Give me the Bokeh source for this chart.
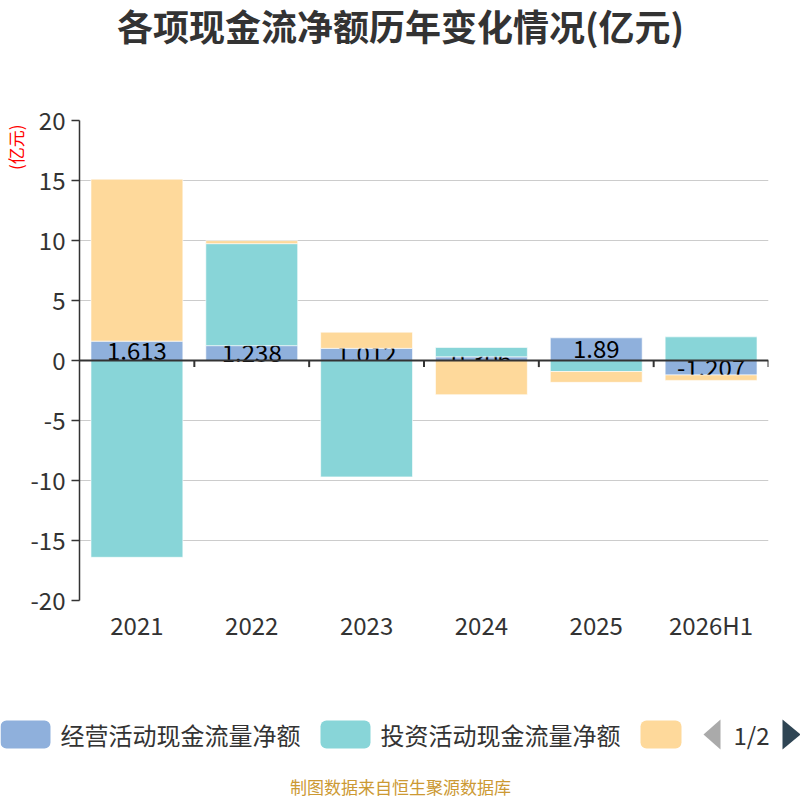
from bokeh.plotting import figure
from bokeh.layouts import column
from bokeh.models import (FactorRange, Range1d, Span, Title, BoxAnnotation,
                          FixedTicker, ColumnDataSource)
from bokeh.core.properties import value
from bokeh.embed import file_html
from bokeh.resources import INLINE

years = ["2021", "2022", "2023", "2024", "2025", "2026H1"]
operating = [1.613, 1.238, 1.012, 0.306, 1.89, -1.207]
investing = [-16.4, 8.5, -9.7, 0.78, -0.92, 1.97]
financing = [13.5, 0.25, 1.35, -2.85, -0.9, -0.45]
op_labels = ["1.613", "1.238", "1.012", "0.306", "1.89", "-1.207"]
y_ticks = [-20, -15, -10, -5, 0, 5, 10, 15, 20]

names = ["经营活动现金流量净额", "投资活动现金流量净额", "筹资活动现金流量净额"]
colors = ["#8fb0dc", "#88d5d8", "#fed99b"]
FONT = "Noto Sans CJK SC"
W = 800


def blank(height):
    f = figure(width=W, height=height, x_range=Range1d(0, W), y_range=Range1d(height, 0),
               x_axis_type=None, y_axis_type=None, output_backend="svg",
               toolbar_location=None, min_border=0, frame_align=False)
    f.outline_line_color = None
    f.grid.grid_line_color = None
    return f


# header with title
top = blank(80)
top.text(x=[400], y=[24], text=["各项现金流净额历年变化情况(亿元)"], text_align="center",
         text_baseline="middle", text_font=value(FONT), text_font_size="36px",
         text_font_style="bold", text_color="#333333")

# main chart
p = figure(x_range=FactorRange(*years, range_padding=0), y_range=(-20, 20),
           width=W, height=600, output_backend="svg", toolbar_location=None,
           min_border_left=78, min_border_right=32, min_border_top=40,
           min_border_bottom=80, frame_align=False)
p.outline_line_color = None

# stacked bars: positives and negatives stacked separately
pos = [0.0] * len(years)
neg = [0.0] * len(years)
for i, series in enumerate([operating, investing, financing]):
    bottoms, tops = [], []
    for j, v in enumerate(series):
        if v >= 0:
            bottoms.append(pos[j]); tops.append(pos[j] + v); pos[j] += v
        else:
            bottoms.append(neg[j]); tops.append(neg[j] + v); neg[j] += v
    p.vbar(x=years, bottom=bottoms, top=tops, width=0.8, fill_color=colors[i],
           line_color="white", line_alpha=0.6, line_width=1)
    if i == 0:
        src = ColumnDataSource(dict(x=years, y=[v / 2 for v in operating], t=op_labels))
        p.text(x="x", y="y", text="t", source=src, text_align="center",
               text_baseline="middle", text_font=value(FONT),
               text_font_size="24px", text_color="#000000")

# axis line at zero with ticks between categories
p.add_layout(Span(location=0, dimension="width", line_color="#333333", line_width=2))
p.segment(x0=[(y, 0.5) for y in years], x1=[(y, 0.5) for y in years],
          y0=[0] * len(years), y1=[-0.55] * len(years), line_color="#333333", line_width=2)

p.yaxis.ticker = FixedTicker(ticks=y_ticks)
p.yaxis.major_label_overrides = {t: str(t) for t in y_ticks}
p.yaxis.axis_line_color = "#333333"
p.yaxis.axis_line_width = 1.5
p.yaxis.major_tick_line_color = "#333333"
p.yaxis.major_tick_line_width = 1.5
p.yaxis.major_tick_out = 8
p.yaxis.major_tick_in = 0
p.yaxis.minor_tick_line_color = None
p.yaxis.major_label_text_font_size = "24px"
p.yaxis.major_label_text_color = "#333333"
p.yaxis.major_label_text_font = FONT
p.yaxis.major_label_standoff = 6

p.xaxis.axis_line_color = None
p.xaxis.major_tick_line_color = None
p.xaxis.major_label_text_font_size = "24px"
p.xaxis.major_label_text_color = "#333333"
p.xaxis.major_label_text_font = FONT
p.xaxis.major_label_standoff = 0

p.xgrid.grid_line_color = None
p.ygrid.grid_line_color = "#cccccc"

p.add_layout(Title(text="(亿元)", align="right", text_color="#ff0000", text_font=FONT,
                   text_font_size="17px", text_font_style="normal", offset=4,
                   standoff=0), "left")

# footer with paged legend and source note
bot = blank(120)
ly = 54
for left, right, tx, c, n in [(0, 50, 60, colors[0], names[0]),
                              (320, 370, 380, colors[1], names[1]),
                              (640, 681, None, colors[2], names[2])]:
    bot.add_layout(BoxAnnotation(left=left, right=right, bottom=ly + 14, top=ly - 14,
                                 fill_color=c, fill_alpha=1, line_color=None, border_radius=6))
    if tx is not None:
        bot.text(x=[tx], y=[ly], text=[n], text_baseline="middle", text_font=value(FONT),
                 text_font_size="24px", text_color="#333333")
bot.patch(x=[703, 720, 720], y=[ly, ly - 15, ly + 15], fill_color="#aaaaaa", line_color=None)
bot.text(x=[751], y=[ly], text=["1/2"], text_align="center", text_baseline="middle",
         text_font=value(FONT), text_font_size="24px", text_color="#333333")
bot.patch(x=[782, 800, 782], y=[ly - 15, ly, ly + 15], fill_color="#2f4554", line_color=None)
bot.text(x=[400], y=[106], text=["制图数据来自恒生聚源数据库"], text_align="center",
         text_baseline="middle", text_font=value(FONT), text_font_size="17px",
         text_color="#cc9933")

layout = column(top, p, bot, spacing=0)
open("out.html", "w").write(file_html(layout, INLINE))
